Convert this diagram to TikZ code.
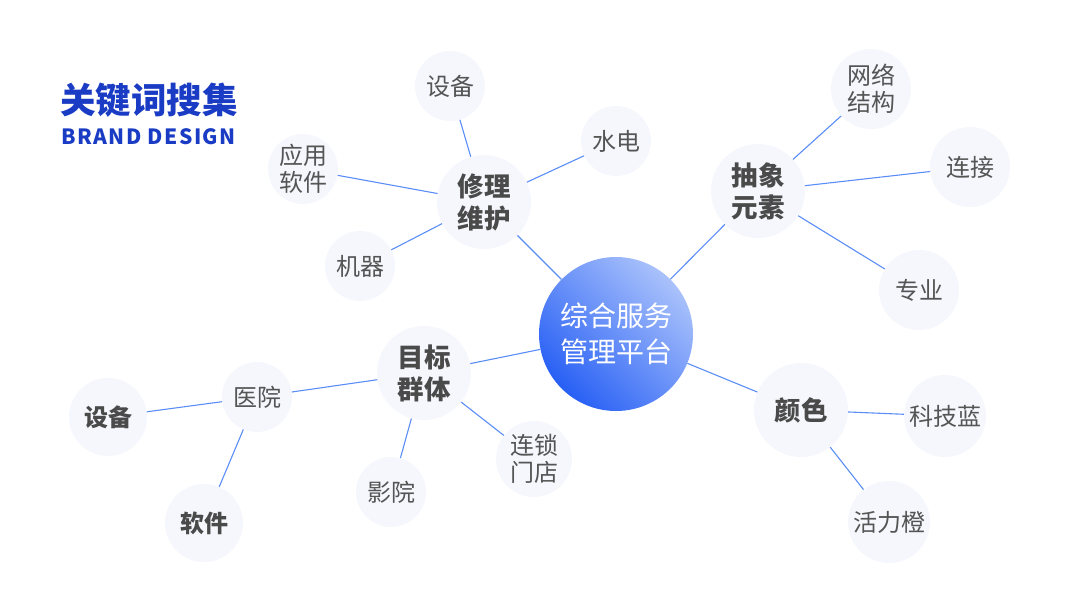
\documentclass[tikz,border=0pt]{standalone}
\usepackage{fontspec}
\setmainfont{Noto Sans CJK SC}
\newfontfamily\brandfont[LetterSpace=7]{Noto Sans CJK SC}
\definecolor{brandblue}{HTML}{1A3CC4}
\definecolor{linkblue}{HTML}{5B8DF6}
\definecolor{bubble}{HTML}{F6F7FD}
\definecolor{hubtext}{HTML}{4A4A4A}
\definecolor{leaftext}{HTML}{555555}
\definecolor{coredeep}{HTML}{2860F5}
\definecolor{corelight}{HTML}{AAC2FB}
\newcommand\titlefont{\fontsize{35.5}{40}\selectfont\bfseries}
\newcommand\corefont{\fontsize{28}{36}\selectfont}
\newcommand\hubfont{\fontsize{26.5}{32}\selectfont\bfseries}
\newcommand\leaffont{\fontsize{24}{27}\selectfont}
\begin{document}
\begin{tikzpicture}[
  x=1pt, y=-1pt,
  every node/.style={circle,inner sep=0pt,align=center},
  hub/.style={fill=bubble,minimum size=94pt,font=\hubfont,text=hubtext},
  leaf/.style={fill=bubble,minimum size=70pt,font=\leaffont,text=leaftext},
  leafbold/.style={leaf,minimum size=78pt,font=\leaffont\bfseries,text=hubtext},
  link/.style={draw=linkblue,line width=1.1pt}
]
\useasboundingbox (0,0) rectangle (1067,600);
% heading
\node[rectangle,anchor=west,font=\titlefont,text=brandblue] (title) at (60,100) {关键词搜集};
\node[rectangle,anchor=west,font=\brandfont\fontsize{21}{24}\selectfont\bfseries,text=brandblue] (brand) at (61,137) {BRAND DESIGN};
% centre
\node[shade,top color=corelight,bottom color=coredeep,shading angle=-45,
  minimum size=154pt,font=\corefont,text=white] (core) at (616,334) {综合服务\\管理平台};
% hubs
\node[hub] (repair) at (484,202) {修理\\维护};
\node[hub] (abstract) at (758,191) {抽象\\元素};
\node[hub] (color) at (801,410) {颜色};
\node[hub] (target) at (424,373) {目标\\群体};
% leaves
\node[leaf] (device) at (450,86) {设备};
\node[leaf] (water) at (616,141) {水电};
\node[leaf] (app) at (303,169) {应用\\软件};
\node[leaf] (machine) at (360,266) {机器};
\node[leaf,minimum size=80pt] (network) at (871,89) {网络\\结构};
\node[leaf,minimum size=80pt] (connect) at (970,167) {连接};
\node[leaf,minimum size=80pt] (pro) at (919,290) {专业};
\node[leaf,minimum size=82pt] (techblue) at (945,416) {科技蓝};
\node[leaf,minimum size=82pt] (orange) at (889,522) {活力橙};
\node[leaf] (hospital) at (257,397) {医院};
\node[leaf] (cinema) at (391,492) {影院};
\node[leaf,minimum size=76pt] (chain) at (534,459) {连锁\\门店};
\node[leafbold] (device2) at (108,417) {设备};
\node[leafbold] (software) at (204,523) {软件};
% links
\draw[link] (core) -- (repair) (core) -- (abstract) (core) -- (color) (core) -- (target);
\draw[link] (repair) -- (device) (repair) -- (water) (repair) -- (app) (repair) -- (machine);
\draw[link] (abstract) -- (network) (abstract) -- (connect) (abstract) -- (pro);
\draw[link] (color) -- (techblue) (color) -- (orange);
\draw[link] (target) -- (hospital) (target) -- (cinema) (target) -- (chain);
\draw[link] (hospital) -- (device2) (hospital) -- (software);
\end{tikzpicture}
\end{document}
